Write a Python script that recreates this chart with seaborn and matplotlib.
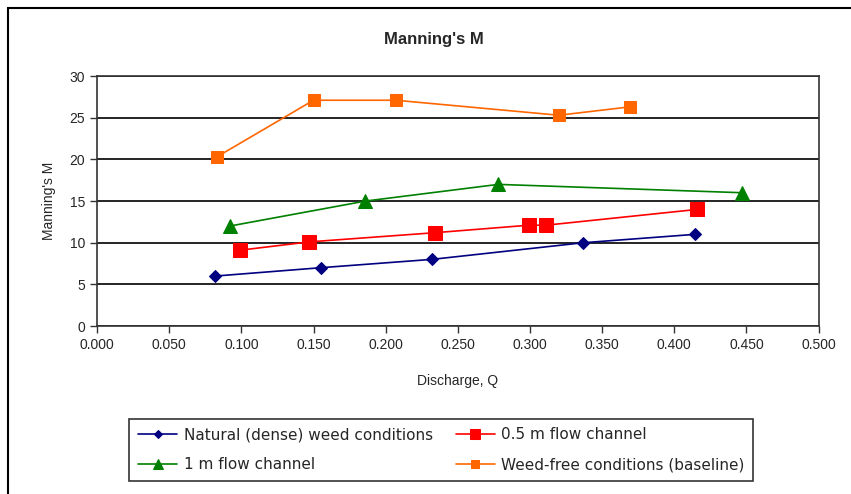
import pandas as pd
import numpy as np
import matplotlib
matplotlib.use("Agg")
import matplotlib.pyplot as plt
import seaborn as sns

sns.set_style("white")
plt.rcParams['font.family'] = ['Liberation Sans', 'DejaVu Sans']

# values
natural_q = [0.082, 0.155, 0.232, 0.337, 0.414]
natural_m = [6.0, 7.0, 8.0, 10.0, 11.0]
half_q = [0.099, 0.147, 0.234, 0.299, 0.311, 0.416]
half_m = [9.1, 10.1, 11.2, 12.1, 12.1, 14.0]
one_q = [0.092, 0.186, 0.278, 0.447]
one_m = [12.0, 15.0, 17.0, 16.0]
free_q = [0.083, 0.150, 0.207, 0.320, 0.369]
free_m = [20.3, 27.1, 27.1, 25.3, 26.3]

names = ["Natural (dense) weed conditions", "0.5 m flow channel",
         "1 m flow channel", "Weed-free conditions (baseline)"]

frames = []
for name, q, m in zip(names, [natural_q, half_q, one_q, free_q],
                      [natural_m, half_m, one_m, free_m]):
    frames.append(pd.DataFrame({"Q": q, "M": m, "series": name}))
df = pd.concat(frames, ignore_index=True)

colors = {names[0]: "#000080", names[1]: "#FF0000",
          names[2]: "#008000", names[3]: "#FF6600"}
markers = {names[0]: "D", names[1]: "s", names[2]: "^", names[3]: "s"}
msizes = {names[0]: 6, names[1]: 10, names[2]: 10, names[3]: 8}

fig = plt.figure(figsize=(8.51, 4.94), dpi=100)
ax = fig.add_axes([0.114, 0.340, 0.848, 0.506])

for name in names:
    sub = df[df["series"] == name]
    sns.lineplot(data=sub, x="Q", y="M", ax=ax, color=colors[name],
                 marker=markers[name], markersize=msizes[name],
                 markeredgecolor=colors[name], linewidth=1.2,
                 label=name, sort=False, legend=False)

ax.set_xlim(0, 0.5)
ax.set_ylim(0, 30)
ax.set_xticks(np.arange(0, 0.501, 0.05))
ax.set_xticklabels([f"{v:.3f}" for v in np.arange(0, 0.501, 0.05)])
ax.set_yticks(range(0, 31, 5))
ax.yaxis.grid(True, color="black", linewidth=1.2)
ax.set_axisbelow(True)
for s in ax.spines.values():
    s.set_color("#333333")
    s.set_linewidth(1.2)
ax.tick_params(axis="both", direction="out", length=5, width=1,
               color="#333333", labelsize=10, bottom=True, left=True)
ax.set_xlabel("Discharge, Q", fontsize=10, labelpad=16)
ax.set_ylabel("Manning's M", fontsize=10, labelpad=10)
fig.text(0.51, 0.92, "Manning's M", ha="center", va="center",
         fontsize=12, fontweight="bold")

handles, labels = ax.get_legend_handles_labels()
order = [0, 2, 1, 3]
leg = fig.legend([handles[i] for i in order], [labels[i] for i in order],
                 ncol=2, loc="upper left", bbox_to_anchor=(0.143, 0.168),
                 frameon=True, fancybox=False, edgecolor="black",
                 prop={"family": "DejaVu Sans", "size": 11},
                 markerscale=0.65, handlelength=2.6, handletextpad=0.4,
                 columnspacing=1.5, borderpad=0.55, labelspacing=1.0)
leg.get_frame().set_linewidth(1.2)

# outer chart border (only top and left edges are inside the image)
fig.patches.append(plt.Rectangle((8 / 851, -0.05), 1.0, 1 - 8 / 494 + 0.05,
                                 transform=fig.transFigure, fill=False,
                                 edgecolor="black", linewidth=1.5))

fig.savefig("out.png", dpi=100)
